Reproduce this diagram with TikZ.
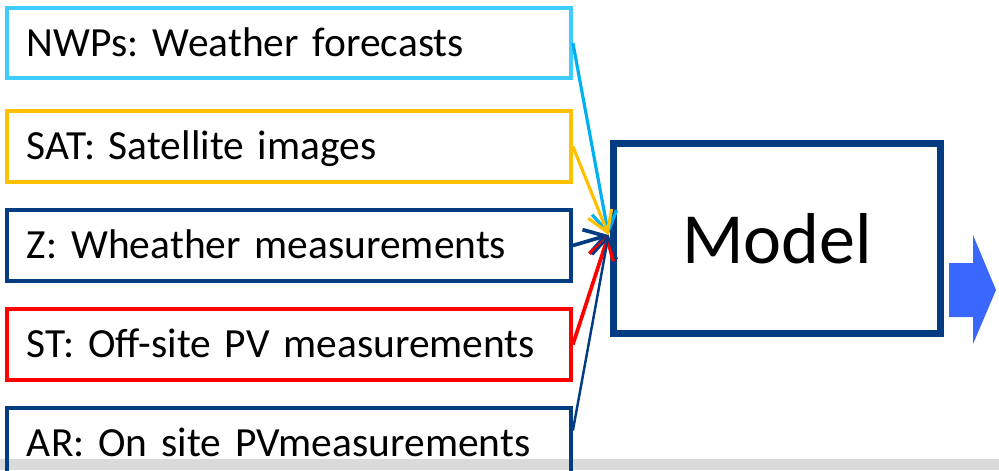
\documentclass[tikz,border=0pt]{standalone}
\usepackage{fontspec}
\setmainfont{Carlito}
\newfontfamily\boxfont{Carlito}[WordSpace=0.85]
\frenchspacing
\usetikzlibrary{arrows.meta,positioning,calc}
\definecolor{nwpcyan}{HTML}{3FCDFF}
\definecolor{nwparrow}{HTML}{00B0F0}
\definecolor{satgold}{HTML}{FFC000}
\definecolor{navy}{HTML}{033C81}
\definecolor{stred}{HTML}{FF0000}
\definecolor{outblue}{HTML}{3A68FF}
\definecolor{bandgray}{HTML}{DADADA}

\begin{document}
\begin{tikzpicture}[x=0.02cm, y=-0.02cm, src box/.style={rectangle,draw,line width=0.08cm,anchor=west,minimum height=1.42cm,text width=10.48cm,inner xsep=0.4cm,align=left,text height=0.53cm,text depth=0pt,font=\boxfont\fontsize{23.6}{28}\selectfont}, model node/.style={rectangle,draw=navy,line width=0.14cm,minimum width=6.54cm,minimum height=3.8cm,font=\fontsize{41}{46}\selectfont}, feed/.style={-{Straight Barb[length=0.4cm,width=0.5cm]},line width=1.8pt}]%
\useasboundingbox (0,0) rectangle (999,470);
\clip (0,0) rectangle (999,470);
\fill[bandgray] (0,459) rectangle (999,470);
\begin{scope}
\node[src box,draw=nwpcyan] (nwp) at (5,43) {NWPs: Weather forecasts};
\node[src box,draw=satgold] (sat) at (5,146.5) {SAT: Satellite images};
\node[src box,draw=navy] (z) at (5,245.5) {Z: Wheather measurements};
\node[src box,draw=stred] (st) at (5,344.5) {ST: Off-site PV measurements};
\node[src box,draw=navy] (ar) at (5,443) {AR: On site PVmeasurements};
\node[model node] (model) at (777,238.5) {Model};
\end{scope}
\coordinate (hub) at ([xshift=-0.03cm,yshift=0.07cm]model.west);
\begin{scope}
\draw (nwp.east) edge[feed,nwparrow] (hub);
\draw (sat.east) edge[feed,satgold] (hub);
\draw (z.east) edge[feed,navy,line width=2.1pt] (hub);
\draw (st.east) edge[feed,stred,line width=2.1pt] (hub);
\draw ([yshift=0.25cm]ar.east) edge[feed,navy,line width=1.4pt] (hub);
\end{scope}
% output arrow
\fill[outblue] (949,263) -- (973,263) -- (973,235) -- (996,290) -- (973,344) -- (973,317) -- (949,317) -- cycle;
\end{tikzpicture}
\end{document}
